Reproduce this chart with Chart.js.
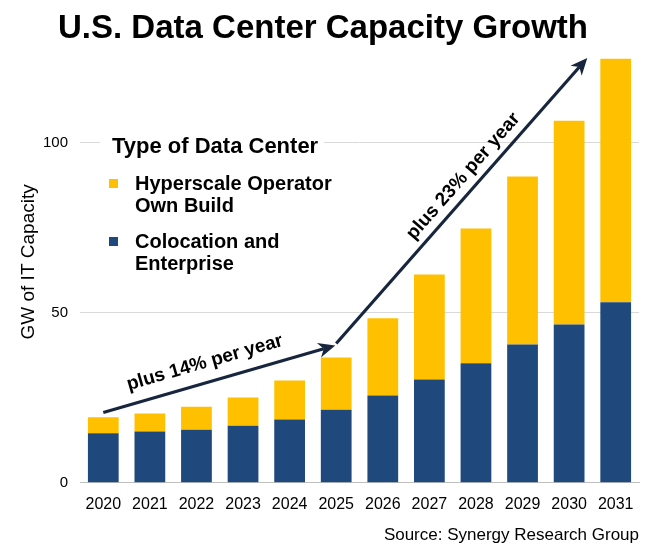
<!DOCTYPE html>
<html><head><meta charset="utf-8">
<script src="https://cdn.jsdelivr.net/npm/chart.js@4.4.1/dist/chart.umd.min.js"></script>
<style>html,body{margin:0;padding:0;background:#fff;}#wrap{width:659px;height:552px;}</style>
</head><body><div id="wrap"><canvas id="c" width="659" height="552"></canvas></div>
<script>
const categories = ['2020','2021','2022','2023','2024','2025','2026','2027','2028','2029','2030','2031'];
const colocation = [14.6, 15.1, 15.6, 16.8, 18.6, 21.5, 25.7, 30.4, 35.2, 40.7, 46.6, 53.1];
const hyperscale = [4.7, 5.3, 6.8, 8.3, 11.5, 15.4, 22.7, 30.9, 39.6, 49.4, 59.9, 71.7];
const yTicks = [0, 50, 100];
const seriesLabels = ['Hyperscale Operator|Own Build', 'Colocation and|Enterprise'];
const chartTitle = 'U.S. Data Center Capacity Growth';
const sourceText = 'Source: Synergy Research Group';
const legendTitle = 'Type of Data Center';
// growth arrows in data space: [xIndexStart, yStart, xIndexEnd, yEnd]
const arrows = [[0, 20.7, 4.98, 40.4], [5.0, 41.0, 10.39, 125.0]];
const arrowLabels = [{text: 'plus 14% per year', x: 2.18, y: 35.3, arrow: 0}, {text: 'plus 23% per year', x: 7.73, y: 90.2, arrow: 1}];

const FONT = "Arial, 'Liberation Sans', sans-serif";
const YELLOW = '#FFC000', NAVY = '#1F497D', ARROW = '#17263D';

const decor = {
  id: 'decor',
  afterDatasetsDraw(chart) {
    const ctx = chart.ctx, xs = chart.scales.x, ys = chart.scales.y;
    ctx.save();
    ctx.fillStyle = '#000';
    ctx.font = 'bold 33px ' + FONT;
    ctx.textAlign = 'center'; ctx.textBaseline = 'alphabetic';
    ctx.fillText(chartTitle, 323, 38);
    ctx.font = '17px ' + FONT;
    ctx.textAlign = 'right';
    ctx.fillText(sourceText, 639, 540);
    ctx.fillStyle = '#fff';
    ctx.fillRect(100, 126, 224, 156);
    ctx.fillStyle = '#000';
    ctx.textAlign = 'left';
    ctx.font = 'bold 22px ' + FONT;
    ctx.fillText(legendTitle, 112, 153);
    const colors = [YELLOW, NAVY];
    const tops = [190, 248];
    ctx.font = 'bold 20px ' + FONT;
    seriesLabels.forEach((lab, i) => {
      ctx.fillStyle = colors[i];
      ctx.fillRect(109, tops[i] - 11, 9, 9);
      ctx.fillStyle = '#000';
      lab.split('|').forEach((ln, j) => ctx.fillText(ln, 135, tops[i] + j * 22));
    });
    const px = (a) => [xs.getPixelForValue(a[0]), ys.getPixelForValue(a[1]), xs.getPixelForValue(a[2]), ys.getPixelForValue(a[3])];
    const angles = [];
    arrows.forEach(a => {
      const [x1, y1, x2, y2] = px(a);
      const ang = Math.atan2(y2 - y1, x2 - x1);
      angles.push(ang);
      const L = 17, W = 7.5, N = 5;
      ctx.strokeStyle = ARROW; ctx.fillStyle = ARROW; ctx.lineWidth = 3.2; ctx.lineCap = 'butt';
      ctx.beginPath();
      ctx.moveTo(x1, y1);
      ctx.lineTo(x2 - Math.cos(ang) * (L - N), y2 - Math.sin(ang) * (L - N));
      ctx.stroke();
      ctx.save();
      ctx.translate(x2, y2); ctx.rotate(ang);
      ctx.beginPath();
      ctx.moveTo(0, 0);
      ctx.lineTo(-L, -W);
      ctx.lineTo(-L + N, 0);
      ctx.lineTo(-L, W);
      ctx.closePath();
      ctx.fill();
      ctx.restore();
    });
    ctx.fillStyle = '#000';
    ctx.font = 'bold 19px ' + FONT;
    ctx.textAlign = 'center'; ctx.textBaseline = 'middle';
    arrowLabels.forEach(l => {
      ctx.save();
      ctx.translate(xs.getPixelForValue(l.x), ys.getPixelForValue(l.y));
      ctx.rotate(angles[l.arrow]);
      ctx.fillText(l.text, 0, 0);
      ctx.restore();
    });
    ctx.restore();
  }
};

new Chart(document.getElementById('c'), {
  type: 'bar',
  data: {
    labels: categories,
    datasets: [
      {label: seriesLabels[1].replace('|', ' '), data: colocation, backgroundColor: NAVY, barPercentage: 0.66, categoryPercentage: 1},
      {label: seriesLabels[0].replace('|', ' '), data: hyperscale, backgroundColor: YELLOW, barPercentage: 0.66, categoryPercentage: 1}
    ]
  },
  options: {
    responsive: false,
    animation: false,
    layout: {padding: {top: 41, bottom: 34, left: 17, right: 20}},
    plugins: {legend: {display: false}, title: {display: false}, tooltip: {enabled: false}},
    scales: {
      x: {
        stacked: true,
        grid: {display: false},
        border: {display: true, color: '#BFBFBF', width: 1},
        ticks: {color: '#000', font: {family: FONT, size: 16}, padding: 4, maxRotation: 0}
      },
      y: {
        stacked: true, min: 0, max: 130,
        afterBuildTicks: (s) => { s.ticks = yTicks.map(v => ({value: v})); },
        afterFit: (s) => { s.width = 63; },
        grid: {color: '#D9D9D9', drawTicks: false, lineWidth: 1},
        border: {display: false},
        ticks: {color: '#000', font: {family: FONT, size: 15}, padding: 12},
        title: {display: true, text: 'GW of IT Capacity', color: '#000', font: {family: FONT, size: 19}, padding: {top: 0, bottom: 0}}
      }
    }
  },
  plugins: [decor]
});
</script>
</body></html>
